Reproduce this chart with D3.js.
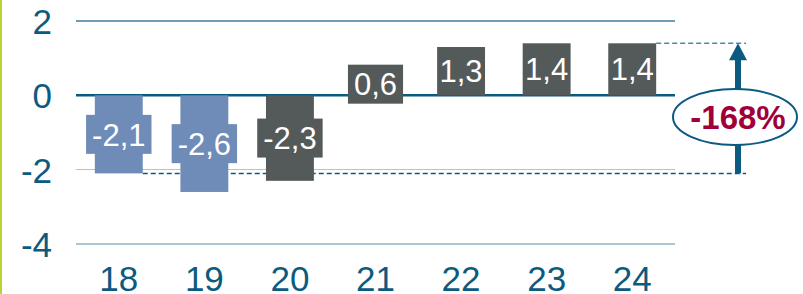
<!DOCTYPE html>
<meta charset="utf-8">
<style>
body { margin: 0; background: #fff; font-family: Arial, "Liberation Sans", sans-serif; }
.grid line { shape-rendering: crispEdges; }
</style>
<script src="https://d3js.org/d3.v7.min.js"></script>
<body>
<div id="chart"></div>
<script>
// data
var years = ["18", "19", "20", "21", "22", "23", "24"];
var values = [-2.1, -2.6, -2.3, 0.6, 1.3, 1.4, 1.4];
var labels = ["-2,1", "-2,6", "-2,3", "0,6", "1,3", "1,4", "1,4"];
var yTicks = [2, 0, -2, -4];
var changeLabel = "-168%";

var W = 803, H = 294;
var lightBlue = "#6f8cb8", darkGrey = "#545a5a", navy = "#0b5a80";

var svg = d3.select("#chart").append("svg")
    .attr("width", W)
    .attr("height", H);

// green bar on the left edge
svg.append("rect")
  .attr("x", 0).attr("y", 0)
  .attr("width", 2).attr("height", H)
  .attr("fill", "#b8d432");

var x = d3.scaleBand()
  .domain(years)
  .range([76, 675])
  .paddingInner(0.44)
  .paddingOuter(0.22);

var y = d3.scaleLinear()
  .domain([-4, 2])
  .range([244, 21]);

// gridlines
svg.append("g").attr("class", "grid")
  .selectAll("line")
  .data(yTicks.filter(function(d) { return d != 0; }))
  .enter().append("line")
    .attr("x1", 76).attr("x2", 675)
    .attr("y1", function(d) { return y(d); })
    .attr("y2", function(d) { return y(d); })
    .attr("stroke", function(d) { return d > 0 ? "#6f9bb4" : "#a8c6d4"; })
    .attr("stroke-width", 1.5);

// y tick labels
svg.append("g")
  .selectAll("text")
  .data(yTicks)
  .enter().append("text")
    .attr("x", 52)
    .attr("y", function(d) { return y(d) + 13; })
    .attr("text-anchor", "end")
    .attr("fill", navy)
    .style("font-size", "35px")
    .text(function(d) { return d; });

// x labels
svg.append("g")
  .selectAll("text")
  .data(years)
  .enter().append("text")
    .attr("x", function(d) { return x(d) + x.bandwidth() / 2; })
    .attr("y", 291)
    .attr("text-anchor", "middle")
    .attr("fill", navy)
    .style("font-size", "35px")
    .text(function(d) { return d; });

// dashed reference lines + arrow
var arrowX = 738;
var lowIdx = 0, highIdx = 6;
svg.append("line")
  .attr("x1", x(years[lowIdx]) + x.bandwidth()).attr("x2", 746)
  .attr("y1", y(values[lowIdx])).attr("y2", y(values[lowIdx]))
  .attr("stroke", navy).attr("stroke-width", 1.5)
  .attr("stroke-dasharray", "5,3");
svg.append("line")
  .attr("x1", x(years[highIdx]) + x.bandwidth()).attr("x2", 746)
  .attr("y1", y(values[highIdx])).attr("y2", y(values[highIdx]))
  .attr("stroke", "#4f87a6").attr("stroke-width", 1.5)
  .attr("stroke-dasharray", "5,3");

// zero line
svg.append("line")
  .attr("x1", 76).attr("x2", 675)
  .attr("y1", y(0)).attr("y2", y(0))
  .attr("stroke", navy).attr("stroke-width", 2.5);

// bars
var data = years.map(function(d, i) { return {year: d, value: values[i], label: labels[i]}; });
var colorOf = function(d, i) { return i < 2 ? lightBlue : darkGrey; };

var bars = svg.append("g").selectAll("g")
  .data(data)
  .enter().append("g");

bars.append("rect")
  .attr("x", function(d) { return x(d.year); })
  .attr("y", function(d) { return y(Math.max(0, d.value)); })
  .attr("width", x.bandwidth())
  .attr("height", function(d) { return Math.abs(y(d.value) - y(0)); })
  .attr("fill", colorOf);

bars.each(function(d, i) {
  var g = d3.select(this);
  var cx = x(d.year) + x.bandwidth() / 2;
  var cy = (y(d.value) + y(0)) / 2;
  var t = g.append("text")
    .attr("x", cx)
    .attr("y", cy)
    .attr("dy", "0.36em")
    .attr("text-anchor", "middle")
    .attr("fill", "#fff")
    .style("font-size", "31px")
    .text(d.label);
  var bb = t.node().getBBox();
  var barH = Math.abs(y(d.value) - y(0));
  if (bb.width > x.bandwidth() || barH < 30) {
    var bw = bb.width + 12, bh = 39;
    g.insert("rect", "text")
      .attr("x", cx - bw / 2)
      .attr("y", cy - bh / 2)
      .attr("width", bw)
      .attr("height", bh)
      .attr("fill", colorOf(d, i));
  }
});

// arrow
svg.append("line")
  .attr("x1", arrowX).attr("x2", arrowX)
  .attr("y1", y(values[lowIdx])).attr("y2", y(values[highIdx]) + 15)
  .attr("stroke", navy).attr("stroke-width", 6);
svg.append("path")
  .attr("d", d3.line()([[arrowX - 9, y(values[highIdx]) + 17], [arrowX, y(values[highIdx])], [arrowX + 9, y(values[highIdx]) + 17]]) + "Z")
  .attr("fill", navy);

// ellipse with change label
svg.append("ellipse")
  .attr("cx", 735).attr("cy", 117)
  .attr("rx", 62).attr("ry", 28)
  .attr("fill", "#fff")
  .attr("stroke", navy).attr("stroke-width", 2);
svg.append("text")
  .attr("x", 738).attr("y", 129)
  .attr("text-anchor", "middle")
  .attr("fill", "#a0003a")
  .style("font-size", "33px")
  .style("font-weight", "bold")
  .text(changeLabel);
</script>
</body>
